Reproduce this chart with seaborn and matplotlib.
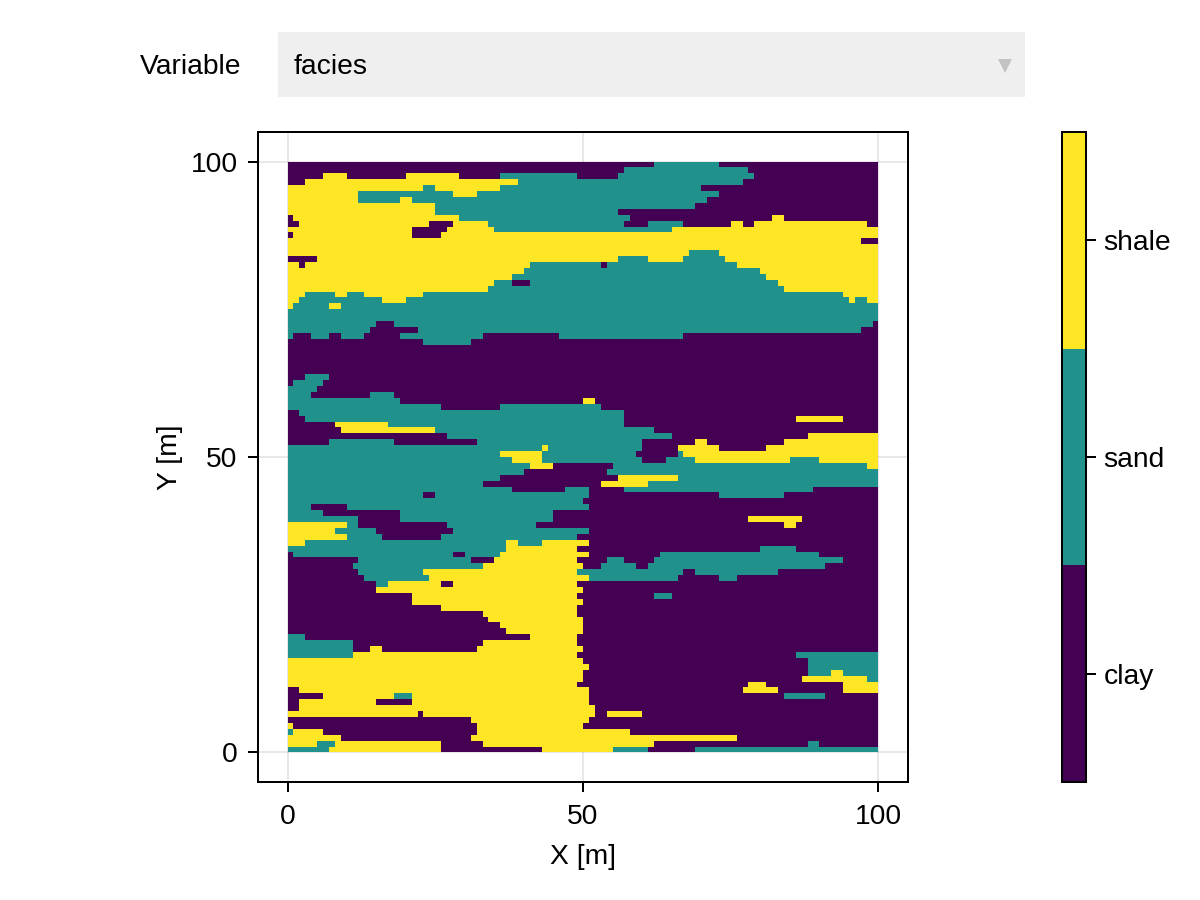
import re

import matplotlib
matplotlib.use("Agg")
import matplotlib.pyplot as plt
import numpy as np
import pandas as pd
import seaborn as sns
from matplotlib.colors import ListedColormap
from matplotlib.patches import Polygon, Rectangle

FACIES = ["clay", "sand", "shale"]
FACIES_COLORS = ["#440154", "#21918C", "#FDE725"]
AXIS_TICKS = [0, 50, 100]
SELECTED_VARIABLE = "facies"

# Facies along each 1 m row, north to south. "h" is shale; each token gives
# the facies and the X position where that stretch ends.
ROWS_NORTH = [
    "c62 s73 c100", "c57 s78 c100", "c6 h10 c20 h29 c36 s49 c56 s79 c100", "c3 h39 s77 c100",
    "h23 s25 h36 s70 c100", "h12 s28 h32 s73 c100", "h12 s19 h21 s71 c100", "h25 s69 c100",
    "h25 s56 c100", "c1 h29 s58 c82 h84 c100", "c2 h24 c28 h34 s57 c61 s67 c75 h77 c79 h98 c100",
    "h21 c27 h35 s65 h100", "c1 h21 c26 h100", "h97 c100", "h100", "h68 s73 h100",
    "c5 h56 s61 h67 s74 h100", "h2 c3 h41 s53 c54 s76 h100", "h40 s80 h100", "h38 s81 h100",
    "h35 s38 c41 s83 h100", "h34 s84 h100", "h3 s8 h10 s13 h23 s94 h100",
    "h2 s16 h20 s95 h96 s98 h100", "h1 s7 h9 s100", "s100", "s100", "s15 c18 s99 c100",
    "s14 c22 s97 c100", "s1 c4 s7 c9 s13 c19 s33 c46 s67 c100", "c23 s31 c100", "c100",
    "c100",
]
ROWS_MIDDLE = [
    "c100", "c100", "c100", "c3 s7 c100", "c1 s6 c100", "s5 c100", "s4 c14 s18 c100",
    "s19 c50 h52 c100", "s26 c36 s53 c100", "c2 s57 c100", "c3 s57 c86 h94 c100",
    "c8 h17 s57 c100", "c9 h25 s62 c100", "c27 s65 c88 h100",
    "c7 s18 c32 s60 c69 h71 c84 h100", "s43 h44 s60 c66 h73 c81 h100",
    "s36 h43 s59 c66 s67 h100", "s38 h43 s60 c64 s69 h85 s90 h100", "s41 h45 c55 s98 h100",
    "s40 c54 s100", "s36 c56 h66 s100", "s33 c53 h61 s100", "s38 c47 s51 c57 s89 c100",
    "s23 c25 s51 c73 s84 c100", "s50 c100", "s4 c10 s51 c100", "s6 c19 s45 c100",
    "s12 c19 s45 c78 h87 c100", "h10 s12 c27 s42 c84 h86 c100", "h8 s15 c28 s51 c100",
    "h10 s16 c26 s49 c100", "h3 s37 h39 s43 h51 c100", "s37 h49 c80 s86 c100",
    "c1 s28 c30 s36 h51 c63 s90 c100",
]
ROWS_SOUTH = [
    "c12 s31 c35 h49 c54 s57 c62 s94 c100", "c11 s33 h50 c53 s59 c61 s91 c100",
    "c12 s23 h49 s67 c69 s83 c100", "c13 s24 h51 s66 c73 s76 c100",
    "c15 s17 h26 c28 h49 c100", "c15 h50 c100", "c21 h49 c62 s65 c100", "c21 h50 c100",
    "c26 h49 c100", "c33 h49 c100", "c34 h50 c100", "c36 h50 c100", "c37 h50 c100",
    "s3 c41 h49 c100", "s11 c33 h49 c100", "s11 c14 h16 c32 h50 c100", "s11 h49 c86 s100",
    "h50 c88 s100", "h51 c88 s100", "h50 c88 s92 h94 s100", "h50 c87 h98 s100",
    "h49 c78 h81 c94 h100", "c2 h51 c77 h83 c94 h100", "c6 h18 s21 h51 c84 s91 c100",
    "c2 h15 c21 h51 c100", "c2 h52 c100", "h22 c23 h52 c54 h60 c100", "c31 h51 c100",
    "h1 c32 h50 c100", "s1 h6 c32 h58 c100", "h9 c31 h76 c100",
    "h5 s8 h26 c33 h62 c88 s90 c100", "s7 h26 c43 h55 s61 c69 s100",
]

W, H = 1200, 900
FONT_SIZE = 20.3
LINE = 1.44
TICK_LEN = 7.2


def decode_row(row):
    """Expand one row of facies tokens into 100 integer cells."""
    codes = {"c": 0, "s": 1, "h": 2}
    cells, start = [], 0
    for letter, end in re.findall(r"([csh])(\d+)", row):
        cells += [codes[letter]] * (int(end) - start)
        start = int(end)
    return cells


def px_box(left, top, right, bottom):
    """Figure-fraction rectangle from pixel edges measured from the top left."""
    return [left / W, 1 - bottom / H, (right - left) / W, (bottom - top) / H]


def to_fig(x, y):
    return x / W, 1 - y / H


sns.set_style("white")
plt.rcParams["font.family"] = ["Liberation Sans", "DejaVu Sans"]

rows = ROWS_NORTH + ROWS_MIDDLE + ROWS_SOUTH
grid = np.array([decode_row(r) for r in rows])[::-1]
frame = pd.DataFrame(grid)
cmap = ListedColormap(FACIES_COLORS)

fig = plt.figure(figsize=(W / 100, H / 100), dpi=100, facecolor="white")

# Map panel: 100 x 100 m grid with 5 m of padding around it.
ax = fig.add_axes(px_box(258, 132, 908, 782))
sns.heatmap(frame, ax=ax, cmap=cmap, vmin=-0.5, vmax=2.5, cbar=False,
            xticklabels=False, yticklabels=False, rasterized=True)
ax.set_xlim(-5, 105)
ax.set_ylim(-5, 105)
ax.set_xticks(AXIS_TICKS, [str(t) for t in AXIS_TICKS], rotation=0)
ax.set_yticks(AXIS_TICKS, [str(t) for t in AXIS_TICKS], rotation=0)
ax.set_axisbelow(True)
ax.grid(True, color="black", alpha=0.09, linewidth=LINE)
ax.tick_params(axis="x", bottom=True, length=TICK_LEN, width=LINE, color="black",
               labelsize=FONT_SIZE, pad=8.5, labelcolor="black")
ax.tick_params(axis="y", left=True, length=TICK_LEN, width=LINE, color="black",
               labelsize=FONT_SIZE, pad=7.5, labelcolor="black")
ax.set_xlabel("X [m]", fontsize=FONT_SIZE, color="black", labelpad=10)
ax.set_ylabel("Y [m]", fontsize=FONT_SIZE, color="black", labelpad=5.5)
for spine in ax.spines.values():
    spine.set_visible(True)
    spine.set_color("black")
    spine.set_linewidth(LINE)

# Discrete colour key for the facies classes.
cax = fig.add_axes(px_box(1062, 132, 1086, 782))
sns.heatmap(pd.DataFrame({"facies": range(len(FACIES))}), ax=cax, cmap=cmap, vmin=-0.5,
            vmax=2.5, cbar=False, xticklabels=False, yticklabels=False, rasterized=True)
cax.set_ylim(0, len(FACIES))
cax.set_xticks([])
cax.yaxis.tick_right()
cax.set_yticks(np.arange(len(FACIES)) + 0.5, FACIES, rotation=0)
cax.tick_params(right=True, left=False, length=TICK_LEN, width=LINE, color="black",
                labelsize=FONT_SIZE, pad=5.5, labelcolor="black")
cax.set_xlabel("")
cax.set_ylabel("")
for spine in cax.spines.values():
    spine.set_visible(True)
    spine.set_color("black")
    spine.set_linewidth(LINE)

# Variable selector above the map.
x0, y0 = to_fig(278, 97)
fig.add_artist(Rectangle((x0, y0), (1025 - 278) / W, (97 - 32) / H,
                         transform=fig.transFigure, facecolor="#EFEFEF", edgecolor="none"))
fig.add_artist(Polygon([to_fig(998, 59), to_fig(1012, 59), to_fig(1005, 73)], closed=True,
                       transform=fig.transFigure, facecolor="#C2C2C2", edgecolor="none"))
fig.text(*to_fig(140, 67), "Variable", fontsize=FONT_SIZE, ha="left", va="center", color="black")
fig.text(*to_fig(294, 67), SELECTED_VARIABLE, fontsize=FONT_SIZE, ha="left", va="center",
         color="black")

fig.savefig("out.png", dpi=100)
